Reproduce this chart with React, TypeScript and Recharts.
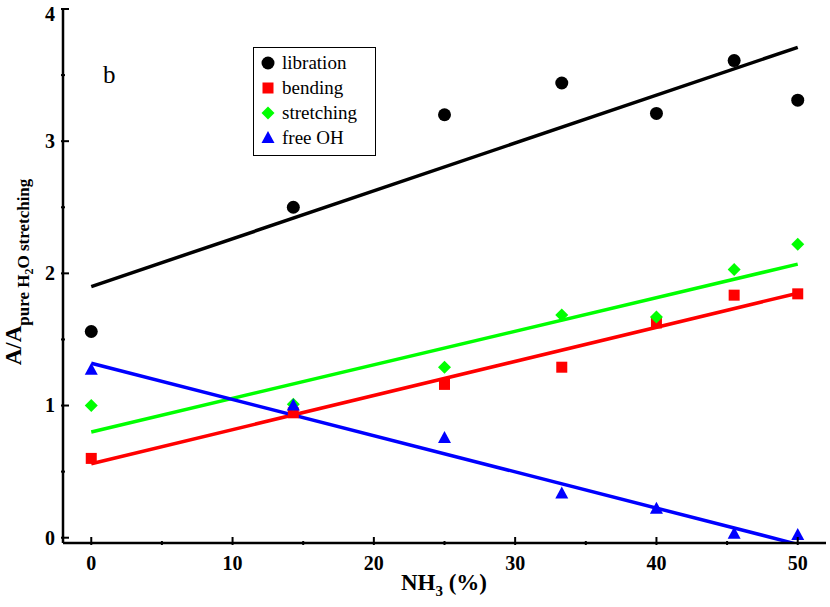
import {
  ComposedChart,
  Legend,
  Line,
  Scatter,
  XAxis,
  YAxis,
} from "recharts";

// NH3 fraction (%) of the measured samples
const nh3 = [0, 14.3, 25, 33.3, 40, 45.5, 50];

// band areas relative to pure H2O stretching
const libration = [1.56, 2.5, 3.2, 3.44, 3.21, 3.61, 3.31];
const bending = [0.6, 0.945, 1.16, 1.29, 1.625, 1.835, 1.845];
const stretching = [1.0, 1.01, 1.29, 1.685, 1.67, 2.03, 2.22];
const freeOH = [1.27, 1.0, 0.755, 0.335, 0.22, 0.03, 0.02];

// linear fits, end points at 0 % and 50 %
const fitX = [0, 50];
const librationFit = [1.9, 3.71];
const bendingFit = [0.56, 1.85];
const stretchingFit = [0.8, 2.07];
const freeOHFit = [1.32, -0.05];

const xTicks = [0, 5, 10, 15, 20, 25, 30, 35, 40, 45, 50];
const yTicks = [0, 0.5, 1, 1.5, 2, 2.5, 3, 3.5, 4];

const FONT = "'Liberation Serif', 'DejaVu Serif', serif";

const toPoints = (xs: number[], ys: number[]) =>
  xs.map((x, i) => ({ x, y: ys[i] }));

type Marker = "circle" | "square" | "diamond" | "triangle";

function drawMarker(kind: Marker, cx: number, cy: number, color: string) {
  if (kind === "circle") return <circle cx={cx} cy={cy} r={6.5} fill={color} />;
  if (kind === "square")
    return <rect x={cx - 5.5} y={cy - 5.5} width={11} height={11} fill={color} />;
  if (kind === "diamond")
    return (
      <polygon
        points={`${cx},${cy - 6.5} ${cx + 6.5},${cy} ${cx},${cy + 6.5} ${cx - 6.5},${cy}`}
        fill={color}
      />
    );
  return (
    <polygon
      points={`${cx},${cy - 7} ${cx + 6.5},${cy + 5} ${cx - 6.5},${cy + 5}`}
      fill={color}
    />
  );
}

const series: { name: string; color: string; marker: Marker; ys: number[]; fit: number[] }[] = [
  { name: "libration", color: "#000000", marker: "circle", ys: libration, fit: librationFit },
  { name: "bending", color: "#ff0000", marker: "square", ys: bending, fit: bendingFit },
  { name: "stretching", color: "#00ff00", marker: "diamond", ys: stretching, fit: stretchingFit },
  { name: "free OH", color: "#0000ff", marker: "triangle", ys: freeOH, fit: freeOHFit },
];

const BottomTick = (props: any) => {
  const { x, y, payload } = props;
  const major = payload.value % 10 === 0;
  return (
    <g>
      <line x1={x} x2={x} y1={y} y2={y - (major ? 8 : 4)} stroke="#000" strokeWidth={2} />
      {major && (
        <text x={x} y={y + 25} textAnchor="middle" fontFamily={FONT} fontWeight="bold" fontSize={20} fill="#000">
          {payload.value}
        </text>
      )}
    </g>
  );
};

const TopTick = (props: any) => {
  const { x, y, payload } = props;
  const major = payload.value % 10 === 0;
  return <line x1={x} x2={x} y1={y} y2={y + (major ? 8 : 4)} stroke="#000" strokeWidth={2} />;
};

const LeftTick = (props: any) => {
  const { x, y, payload } = props;
  const major = Number.isInteger(payload.value);
  // the top label is pushed down so it stays inside the picture
  const ty = Math.max(y, 14);
  return (
    <g>
      <line x1={x} x2={x + (major ? 8 : 4)} y1={y} y2={y} stroke="#000" strokeWidth={2} />
      {major && (
        <text x={x - 6} y={ty} dy="0.34em" textAnchor="end" fontFamily={FONT} fontWeight="bold" fontSize={20} fill="#000">
          {payload.value}
        </text>
      )}
    </g>
  );
};

const RightTick = (props: any) => {
  const { x, y, payload } = props;
  const major = Number.isInteger(payload.value);
  return <line x1={x} x2={x - (major ? 8 : 4)} y1={y} y2={y} stroke="#000" strokeWidth={2} />;
};

const LegendBox = () => (
  <div
    style={{
      position: "relative",
      width: 123,
      height: 109,
      boxSizing: "border-box",
      border: "1.5px solid #000",
      background: "#fff",
      fontFamily: FONT,
      fontSize: 19,
      color: "#000",
    }}
  >
    {series.map((s, i) => (
      <div
        key={s.name}
        style={{ position: "absolute", left: 0, top: 3 + i * 25, height: 24, lineHeight: "24px", whiteSpace: "nowrap" }}
      >
        <svg width={16} height={16} style={{ position: "absolute", left: 6, top: 4 }}>
          {drawMarker(s.marker, 8, 8, s.color)}
        </svg>
        <span style={{ position: "absolute", left: 28 }}>{s.name}</span>
      </div>
    ))}
  </div>
);

const YLabel = () => (
  <text
    x={21}
    y={272}
    transform="rotate(-90, 21, 272)"
    textAnchor="middle"
    fontFamily={FONT}
    fontWeight="bold"
    fill="#000"
  >
    <tspan fontSize={23}>A/A</tspan>
    <tspan fontSize={17} dy={8}>pure H</tspan>
    <tspan fontSize={12} dy={4}>2</tspan>
    <tspan fontSize={17} dy={-4}>O stretching</tspan>
  </text>
);

const XLabel = () => (
  <text x={444} y={590} textAnchor="middle" fontFamily={FONT} fontWeight="bold" fill="#000">
    <tspan fontSize={23}>NH</tspan>
    <tspan fontSize={15} dy={6}>3</tspan>
    <tspan fontSize={23} dy={-6}> (%)</tspan>
  </text>
);

export default function App() {
  return (
    <div style={{ position: "absolute", left: 0, top: 0, width: 830, height: 607, background: "#fff" }}>
      <ComposedChart width={830} height={607} margin={{ top: 9, right: 4, bottom: 0, left: 0 }}>
        <XAxis
          xAxisId="bottom"
          dataKey="x"
          type="number"
          domain={[-2, 52]}
          allowDataOverflow
          ticks={xTicks}
          interval={0}
          height={64}
          tickSize={0}
          tickLine={false}
          tick={<BottomTick />}
          axisLine={{ stroke: "#000", strokeWidth: 2.5 }}
          label={<XLabel />}
        />
        <XAxis
          xAxisId="top"
          orientation="top"
          type="number"
          domain={[-2, 52]}
          allowDataOverflow
          ticks={xTicks}
          interval={0}
          height={0}
          tickSize={0}
          tickLine={false}
          tick={<TopTick />}
          axisLine={{ stroke: "#000", strokeWidth: 2.5 }}
        />
        <YAxis
          yAxisId="left"
          dataKey="y"
          type="number"
          domain={[-0.04, 4]}
          allowDataOverflow
          ticks={yTicks}
          interval={0}
          width={63}
          tickSize={0}
          tickLine={false}
          tick={<LeftTick />}
          axisLine={{ stroke: "#000", strokeWidth: 2.5 }}
          label={<YLabel />}
        />
        <YAxis
          yAxisId="right"
          orientation="right"
          type="number"
          domain={[-0.04, 4]}
          allowDataOverflow
          ticks={yTicks}
          interval={0}
          width={0}
          tickSize={0}
          tickLine={false}
          tick={<RightTick />}
          axisLine={{ stroke: "#000", strokeWidth: 2.5 }}
        />
        {series.map((s) => (
          <Line
            key={`${s.name}-fit`}
            xAxisId="bottom"
            yAxisId="left"
            data={toPoints(fitX, s.fit)}
            dataKey="y"
            stroke={s.color}
            strokeWidth={3.5}
            dot={false}
            activeDot={false}
            legendType="none"
            isAnimationActive={false}
          />
        ))}
        {series.map((s) => (
          <Scatter
            key={s.name}
            name={s.name}
            xAxisId="bottom"
            yAxisId="left"
            data={toPoints(nh3, s.ys)}
            dataKey="y"
            fill={s.color}
            shape={(p: any) => drawMarker(s.marker, p.cx, p.cy, s.color)}
            isAnimationActive={false}
          />
        ))}
        <Legend
          layout="vertical"
          align="center"
          verticalAlign="middle"
          content={<LegendBox />}
          wrapperStyle={{ left: 253, top: 47, width: 123, height: 109 }}
        />
        <text x={103} y={83} fontFamily={FONT} fontSize={25} fill="#000">
          b
        </text>
      </ComposedChart>
    </div>
  );
}
